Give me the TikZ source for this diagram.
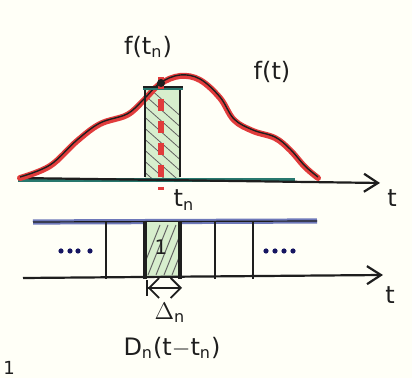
\documentclass[tikz,border=0pt]{standalone}
\usepackage{fontspec}
\setmainfont{DejaVu Sans}
\usetikzlibrary{arrows.meta,patterns}
\definecolor{pen}{RGB}{30,30,30}
\definecolor{redpen}{RGB}{225,60,60}
\definecolor{tealpen}{RGB}{40,120,110}
\definecolor{bluepen}{RGB}{110,120,185}
\definecolor{greenfill}{RGB}{215,238,205}
\tikzset{
  lbl/.style={font=\large, text=pen, inner sep=1pt},
  axisline/.style={pen, line width=1.1pt, -{Straight Barb[length=7pt,width=9pt]}},
  bar/.style={pen, line width=1pt},
  thickbar/.style={pen, line width=1.8pt},
}
\begin{document}
\begin{tikzpicture}[x=0.5pt,y=-0.5pt]
\useasboundingbox (0,0) rectangle (412,378);
\fill[white!97!yellow] (0,0) rectangle (412,378);
% ---------- upper graph ----------
\fill[greenfill] (145,87) rectangle (180,178);
\begin{scope}
\clip (145,87) rectangle (180,178);
\foreach \k in {0,...,9} {
  \draw[pen!70, line width=0.4pt] (140,80+\k*11) -- (185,120+\k*11);
}
\end{scope}
\draw[tealpen, line width=2.4pt] (18,180) -- (295,180);
\coordinate (ua0) at (18,178);
\coordinate (ua1) at (380,183);
\draw[axisline] (ua0) -- (ua1);
\node[lbl] (tu) at (392,198) {t};
% curve
\draw[redpen, line width=3pt, line cap=round] plot[smooth, tension=0.6] coordinates {
 (20,178) (50,166) (77,141) (100,124) (127,115) (143,101) (160,84) (180,76) (200,80) (220,98) (234,120) (253,131) (275,138) (290,150) (305,167) (318,178)};
\draw[pen, line width=0.7pt] plot[smooth, tension=0.6] coordinates {
 (20,177) (50,165) (77,140) (100,123) (127,114) (143,100) (160,83) (180,75) (200,79) (220,97) (234,119) (253,130) (275,137) (290,149) (305,166) (318,177)};
% rectangle
\draw[bar, line width=1.1pt] (145,177) -- (145,87) (180,87) -- (180,177);
\draw[tealpen, line width=2pt] (143,88) -- (183,88);
\draw[pen, line width=1pt] (143,87) -- (183,87);
\coordinate (d0) at (161,77);
\coordinate (d1) at (161,190);
\draw[redpen, line width=2.6pt, dash pattern=on 6pt off 5pt] (d0) -- (d1);
\fill[pen] (161,83) circle (4);
\node[lbl] (ftn) at (148,47) {f(t$_\mathrm{n}$)};
\node[lbl] (ft) at (272,72) {f(t)};
\node[lbl] (tn) at (184,200) {t$_\mathrm{n}$};
% ---------- lower graph ----------
\coordinate (b0) at (33,222);
\coordinate (b1) at (317,221);
\draw[bluepen, line width=2.6pt] (b0) -- (b1);
\draw[pen, line width=0.6pt] (b0) -- (b1);
\fill[greenfill] (145,222) rectangle (180,278);
\begin{scope}
\clip (145,222) rectangle (180,278);
\foreach \k in {0,...,6} {
  \draw[pen!70, line width=0.5pt] (140+\k*8,275) -- (160+\k*8,225);
}
\end{scope}
\node[lbl, font=\normalsize] (one) at (161,247) {1};
\coordinate (la0) at (23,278);
\coordinate (la1) at (383,275);
\draw[axisline] (la0) -- (la1);
\node[lbl] (tl) at (390,295) {t};
\foreach \x in {106,215,253} {\draw[bar] (\x,222) -- (\x,279);}
\foreach \x in {145,180} {\draw[thickbar] (\x,222) -- (\x,279);}
\foreach \x in {61,70,78,90} {\fill[pen!70!blue] (\x,251) circle (2.6);}
\foreach \x in {266,275,284,293} {\fill[pen!70!blue] (\x,251) circle (2.6);}
\coordinate (w0) at (146,288);
\coordinate (w1) at (182,288);
\draw[pen, line width=0.9pt, {Bar[width=8pt]Straight Barb[length=5pt]}-{Straight Barb[length=5pt]}] (w0) -- (w1);
\node[lbl] (delta) at (170,313) {$\Delta$$_\mathrm{n}$};
\node[lbl] (dn) at (172,348) {D$_\mathrm{n}$(t$-$t$_\mathrm{n}$)};
\node[lbl, font=\small, anchor=south west] (pg) at (1,377) {1};
\end{tikzpicture}
\end{document}
